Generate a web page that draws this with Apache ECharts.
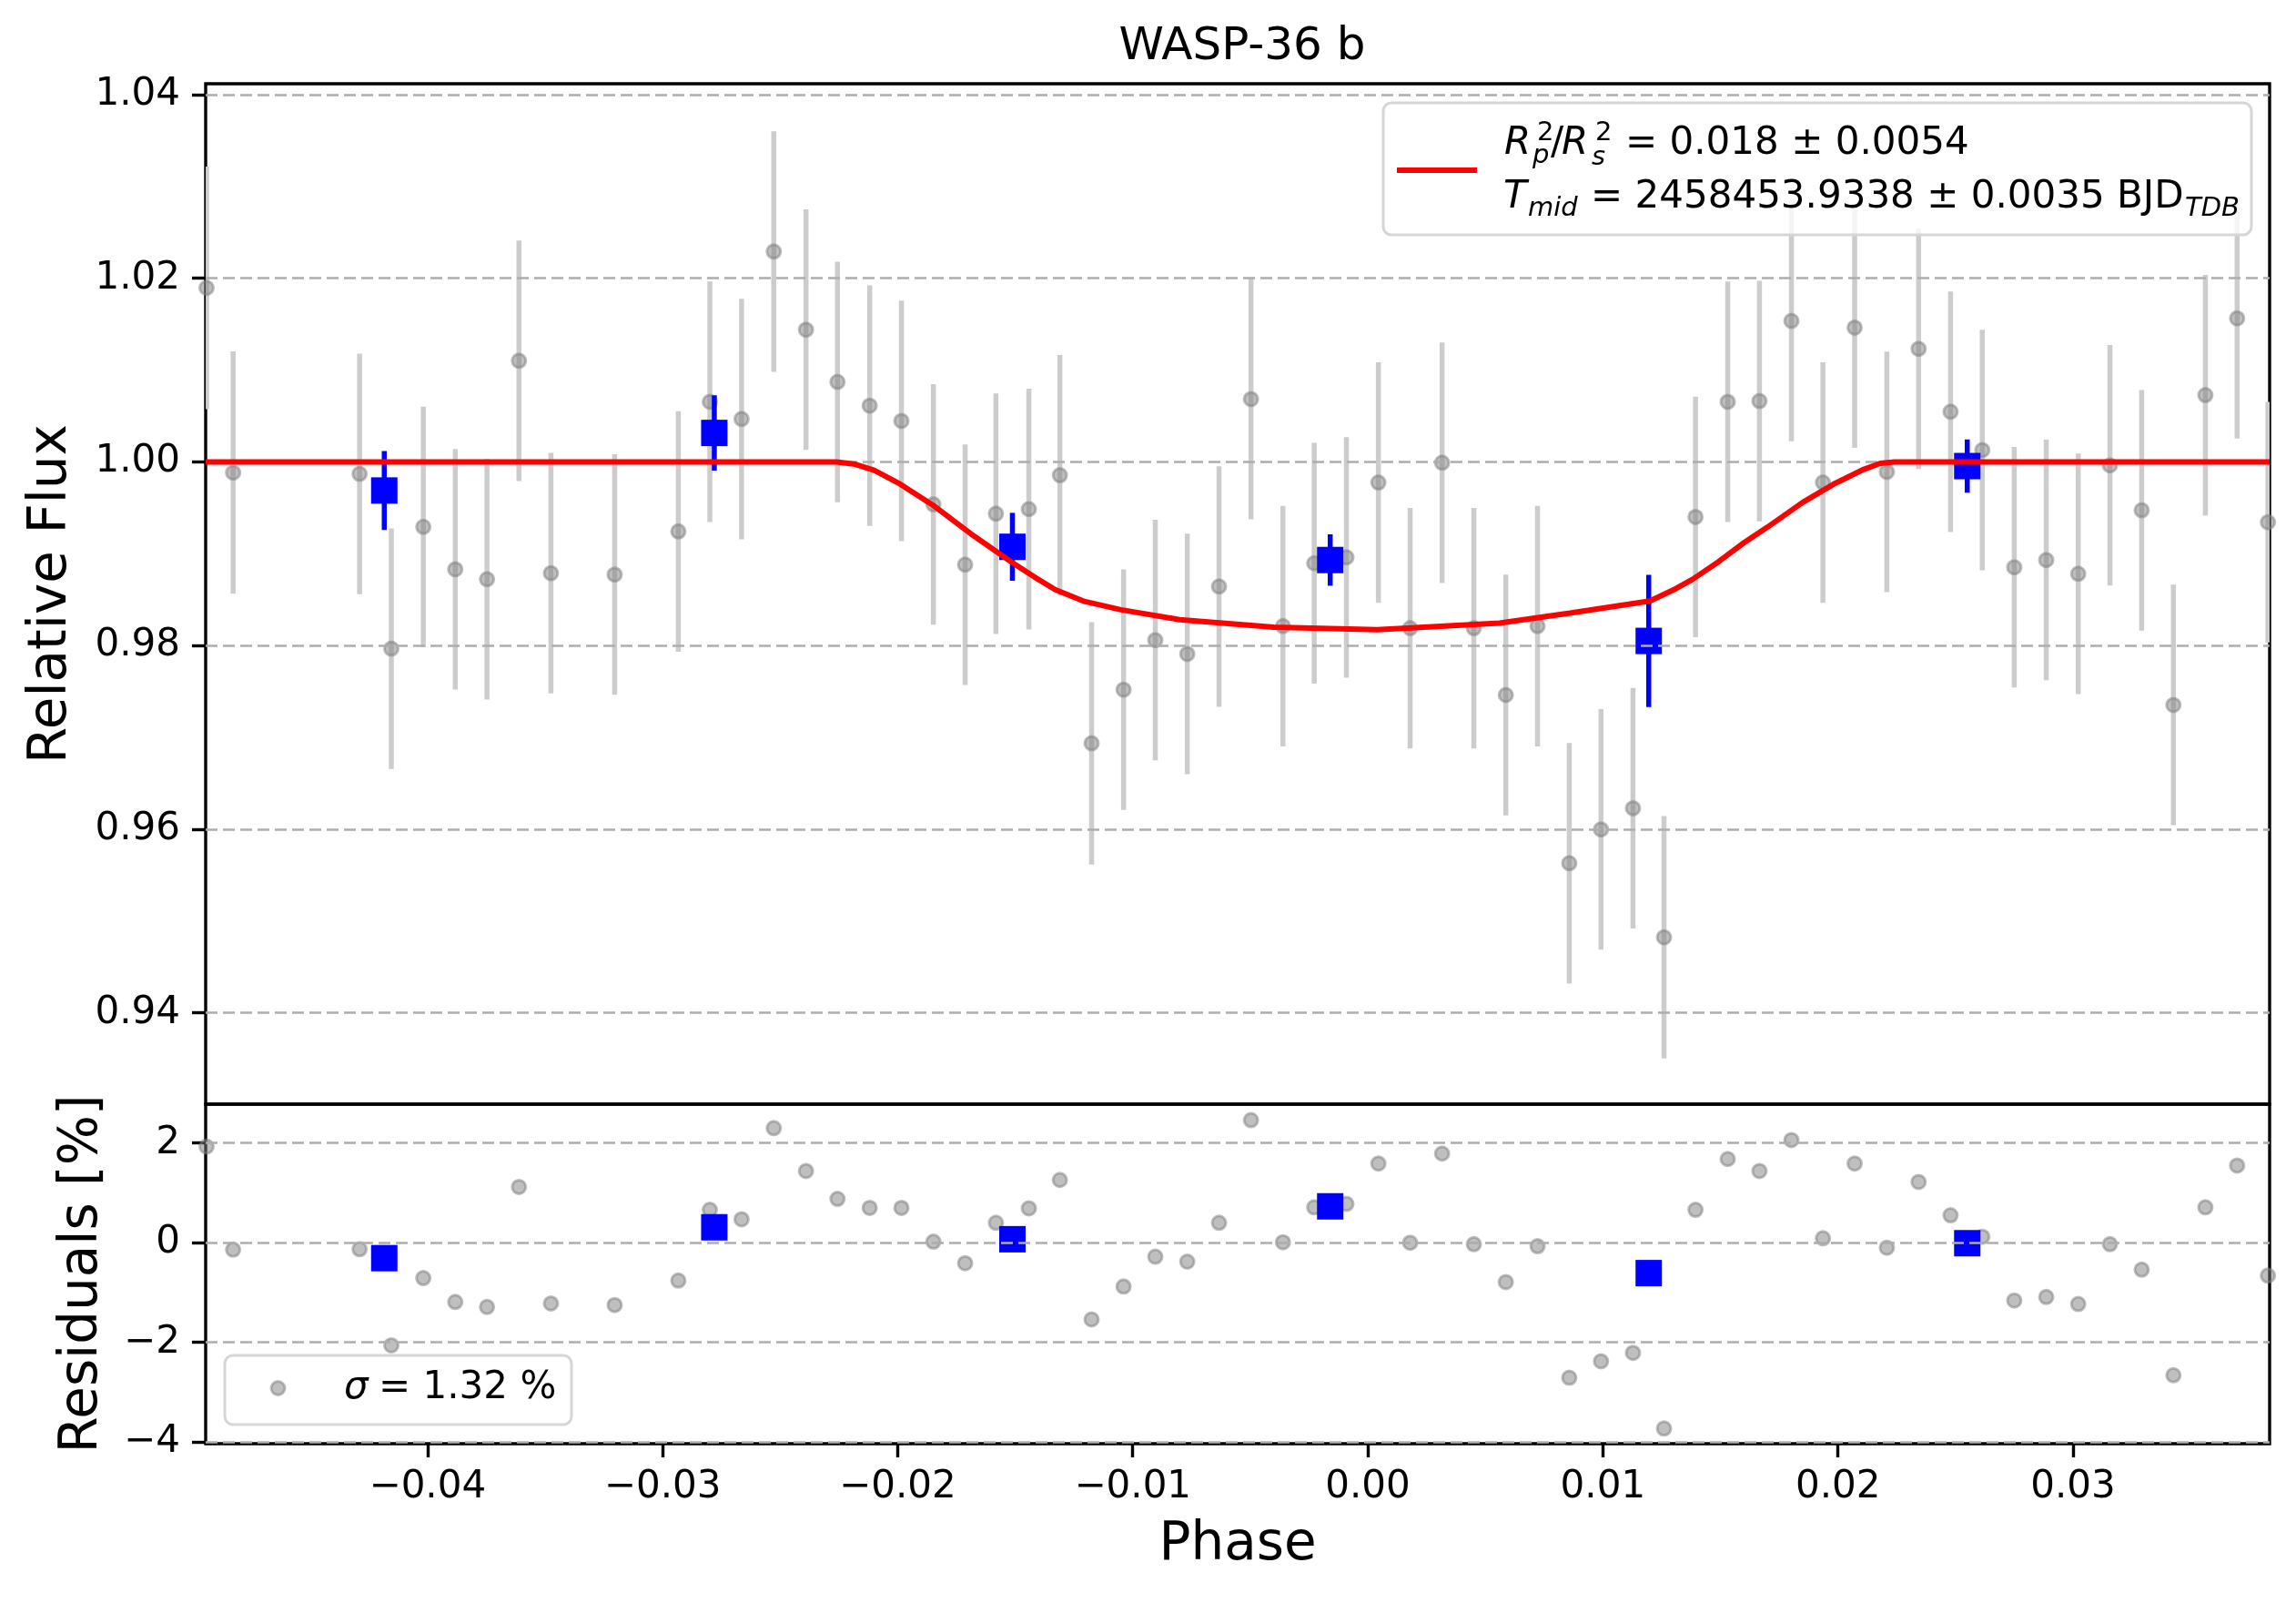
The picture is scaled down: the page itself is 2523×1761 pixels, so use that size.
<!DOCTYPE html>
<html>
<head>
<meta charset="utf-8">
<title>WASP-36 b</title>
<script src="https://cdn.jsdelivr.net/npm/echarts@6.0.0/dist/echarts.min.js"></script>
<style>
    html, body { margin: 0; padding: 0; background: #fff; }
    #chart { width: 2523px; height: 1761px; }
</style>
</head>
<body>
<div id="chart"></div>
<script>
// phase of every exposure
var fluxPhase = [
    -0.04940,
    -0.04827, -0.04289, -0.04154, -0.04018, -0.03882, -0.03747, -0.03611, -0.03475, -0.03204, -0.02933, -0.02799, -0.02664,
    -0.02527, -0.02390, -0.02256, -0.02119, -0.01984, -0.01848, -0.01713, -0.01582, -0.01442, -0.01310, -0.01175, -0.01039,
    -0.00904, -0.00768, -0.00633, -0.00497,
    -0.00361, -0.00228, -0.00091, 0.00045, 0.00180, 0.00316, 0.00451, 0.00587, 0.00722, 0.00857, 0.00992, 0.01128,
    0.01260, 0.01394, 0.01531, 0.01666, 0.01802,
    0.01936, 0.02071, 0.02208, 0.02343, 0.02479, 0.02614, 0.02750, 0.02886, 0.03022, 0.03157, 0.03292, 0.03427,
    0.03563, 0.03698, 0.03829
];
// relative flux
var fluxValue = [
    1.01896,
    0.99884, 0.99870, 0.97967, 0.99293, 0.98831, 0.98723, 1.01102, 0.98789, 0.98774, 0.99243, 1.00655, 1.00468,
    1.02292, 1.01441, 1.00872, 1.00613, 1.00447, 0.99538, 0.98882, 0.99437, 0.99487, 0.99855, 0.96936, 0.97520,
    0.98060, 0.97909, 0.98644, 1.00685,
    0.98212, 0.98897, 0.98961, 0.99776, 0.98190, 0.99992, 0.98190, 0.97462, 0.98212, 0.95630, 0.95998, 0.96229,
    0.94823, 0.99401, 1.00655, 1.00663, 1.01536,
    0.99776, 1.01463, 0.99892, 1.01232, 1.00547, 1.00130, 0.98853, 0.98932, 0.98782, 0.99963, 0.99474, 0.97354,
    1.00728, 1.01564, 0.99344
];
// 1-sigma error of each flux
var fluxErr = [
    0.0132,
    0.0132, 0.0131, 0.0131, 0.0131, 0.0131, 0.0131, 0.0131, 0.0131, 0.0131, 0.0131, 0.0131, 0.0131,
    0.0131, 0.0131, 0.0131, 0.0131, 0.0131, 0.0131, 0.0131, 0.0131, 0.0131, 0.0131, 0.0132, 0.0131,
    0.0131, 0.0131, 0.0131, 0.0131,
    0.0131, 0.0131, 0.0131, 0.0131, 0.0131, 0.0131, 0.0131, 0.0131, 0.0131, 0.0131, 0.0131, 0.0131,
    0.0132, 0.0131, 0.0131, 0.0131, 0.0131,
    0.0131, 0.0131, 0.0131, 0.0131, 0.0131, 0.0131, 0.0131, 0.0131, 0.0131, 0.0131, 0.0131, 0.0131,
    0.0131, 0.0131, 0.0131
];
// residuals in percent
var residValue = [
    1.93,
    -0.14, -0.13, -2.06, -0.71, -1.19, -1.29, 1.12, -1.22, -1.25, -0.76, 0.66, 0.47,
    2.30, 1.44, 0.88, 0.70, 0.70, 0.02, -0.41, 0.40, 0.69, 1.26, -1.54, -0.88,
    -0.28, -0.38, 0.40, 2.46,
    0.01, 0.71, 0.78, 1.59, 0.00, 1.79, -0.03, -0.79, -0.07, -2.71, -2.38, -2.21,
    -3.73, 0.66, 1.68, 1.44, 2.06,
    0.09, 1.59, -0.10, 1.22, 0.55, 0.12, -1.16, -1.09, -1.23, -0.03, -0.54, -2.66,
    0.71, 1.55, -0.66
];

// binned points (blue)
var binPhase = [-0.04184, -0.02780, -0.01512, -0.00160, 0.01195, 0.02550];
var binFlux = [0.99689, 1.00316, 0.99076, 0.98932, 0.98051, 0.99955];
var binErr = [0.0043, 0.0041, 0.0037, 0.0028, 0.0072, 0.0029];
var binResid = [-0.31, 0.31, 0.07, 0.73, -0.61, -0.01];

// transit model (red)
var modelPhase = [
    -0.04944, -0.0226, -0.0218, -0.0210, -0.0199, -0.0185, -0.0169, -0.0151, -0.0142, -0.0133,
    -0.0121, -0.0105, -0.0080, -0.0040, 0.0004, 0.0056, 0.0086, 0.0120, 0.0131, 0.0138,
    0.0149, 0.0160, 0.0170, 0.0185, 0.0199, 0.0211, 0.0218, 0.0224, 0.03836
];
var modelFlux = [
    1.0000, 1.0000, 0.99975, 0.9991, 0.9976, 0.9953, 0.9922, 0.9890, 0.9875, 0.9861,
    0.98485, 0.9839, 0.98283, 0.9820, 0.98173, 0.98246, 0.98355, 0.98485, 0.9862, 0.9872,
    0.9891, 0.9912, 0.9929, 0.9956, 0.9977, 0.9992, 0.99985, 1.0000, 1.0000
];

// tick labels
var phaseTicks = [-0.04, -0.03, -0.02, -0.01, 0.00, 0.01, 0.02, 0.03];
var fluxTicks = [0.94, 0.96, 0.98, 1.00, 1.02, 1.04];
var residTicks = [-4, -2, 0, 2];

var FONT = 'DejaVu Sans';
var GRAY_BAR = '#cccccc';
var DOT_FILL = 'rgba(128,128,128,0.5)';
var LEGEND_Z = 100;

function minus(s) {
    return s.replace('-', '\u2212');
}

// vertical error bar drawn through the axis scales
function errorBarItem(color) {
    return function (params, api) {
        var x = api.value(0), y = api.value(1), e = api.value(2);
        var lo = api.coord([x, y - e]);
        var hi = api.coord([x, y + e]);
        return {
            type: 'line',
            shape: { x1: lo[0], y1: lo[1], x2: hi[0], y2: hi[1] },
            style: { stroke: color, lineWidth: 5.5 }
        };
    };
}

function gridLines(values) {
    return {
        silent: true,
        symbol: ['none', 'none'],
        label: { show: false },
        emphasis: { disabled: true },
        lineStyle: { color: '#adadad', type: [13, 6], width: 2.6 },
        data: values.map(function (v) { return { yAxis: v }; })
    };
}

// one piece of legend text
function legendText(text, x, y, size, italic) {
    return {
        type: 'text', z: LEGEND_Z + 2,
        style: {
            text: text, x: x, y: y, fontFamily: FONT, fontSize: size,
            fontStyle: italic ? 'italic' : 'normal', fill: '#000',
            align: 'left', verticalAlign: 'middle'
        }
    };
}

var xMin = -0.049438, xMax = 0.038362;

var chart = echarts.init(document.getElementById('chart'), null, { renderer: 'canvas' });

var option = {
    animation: false,
    backgroundColor: '#ffffff',
    textStyle: { fontFamily: FONT },
    title: {
        text: 'WASP-36 b',
        left: 1360,
        top: 22,
        textAlign: 'center',
        textStyle: { fontFamily: FONT, fontSize: 50, fontWeight: 'normal', color: '#000' }
    },
    grid: [
        { left: 226, right: 29, top: 92, height: 1121, show: true, borderColor: '#000', borderWidth: 3.4, backgroundColor: 'transparent' },
        { left: 226, right: 29, top: 1213, height: 373, show: true, borderColor: '#000', borderWidth: 3.4, backgroundColor: 'transparent' }
    ],
    xAxis: [
        { type: 'value', gridIndex: 0, min: xMin, max: xMax, show: false },
        {
            type: 'value', gridIndex: 1, min: xMin, max: xMax,
            name: 'Phase', nameLocation: 'middle', nameGap: 83,
            nameTextStyle: { fontFamily: FONT, fontSize: 58, color: '#000' },
            axisLine: { show: false, onZero: false },
            axisTick: { show: true, customValues: phaseTicks, length: 15, lineStyle: { color: '#000', width: 3.4 } },
            axisLabel: {
                customValues: phaseTicks, margin: 27, fontFamily: FONT, fontSize: 42, color: '#000',
                formatter: function (v) { return minus(v.toFixed(2)); }
            },
            splitLine: { show: false }
        }
    ],
    yAxis: [
        {
            type: 'value', gridIndex: 0, min: 0.93006, max: 1.04119,
            name: 'Relative Flux', nameLocation: 'middle', nameGap: 140,
            nameTextStyle: { fontFamily: FONT, fontSize: 58, color: '#000' },
            axisLine: { show: false, onZero: false },
            axisTick: { show: true, customValues: fluxTicks, length: 15, lineStyle: { color: '#000', width: 3.4 } },
            axisLabel: {
                customValues: fluxTicks, margin: 28, fontFamily: FONT, fontSize: 42, color: '#000',
                formatter: function (v) { return v.toFixed(2); }
            },
            splitLine: { show: false }
        },
        {
            type: 'value', gridIndex: 1, min: -4.034, max: 2.781,
            name: 'Residuals [%]', nameLocation: 'middle', nameGap: 106,
            nameTextStyle: { fontFamily: FONT, fontSize: 58, color: '#000' },
            axisLine: { show: false, onZero: false },
            axisTick: { show: true, customValues: residTicks, length: 15, lineStyle: { color: '#000', width: 3.4 } },
            axisLabel: {
                customValues: residTicks, margin: 28, fontFamily: FONT, fontSize: 42, color: '#000',
                formatter: function (v) { return minus(String(v)); }
            },
            splitLine: { show: false }
        }
    ],
    series: [
        // gray error bars (plus the dashed grid of the upper panel)
        {
            type: 'custom', xAxisIndex: 0, yAxisIndex: 0, z: 1, clip: true,
            renderItem: errorBarItem(GRAY_BAR),
            encode: { x: 0, y: 1 },
            data: fluxPhase.map(function (x, i) { return [x, fluxValue[i], fluxErr[i]]; }),
            markLine: gridLines(fluxTicks)
        },
        {
            type: 'scatter', xAxisIndex: 0, yAxisIndex: 0, z: 2,
            symbol: 'circle', symbolSize: 15,
            itemStyle: { color: DOT_FILL, borderColor: DOT_FILL, borderWidth: 3, opacity: 1 },
            data: fluxPhase.map(function (x, i) { return [x, fluxValue[i]]; })
        },
        // binned error bars and squares
        {
            type: 'custom', xAxisIndex: 0, yAxisIndex: 0, z: 3, clip: true,
            renderItem: errorBarItem('#0000ff'),
            encode: { x: 0, y: 1 },
            data: binPhase.map(function (x, i) { return [x, binFlux[i], binErr[i]]; })
        },
        {
            type: 'scatter', xAxisIndex: 0, yAxisIndex: 0, z: 4,
            symbol: 'rect', symbolSize: 29,
            itemStyle: { color: '#0000ff', opacity: 1 },
            data: binPhase.map(function (x, i) { return [x, binFlux[i]]; })
        },
        {
            type: 'line', xAxisIndex: 0, yAxisIndex: 0, z: 5,
            symbol: 'none', smooth: false,
            lineStyle: { color: '#ff0000', width: 6 },
            data: modelPhase.map(function (x, i) { return [x, modelFlux[i]]; })
        },
        // residual panel
        {
            type: 'scatter', xAxisIndex: 1, yAxisIndex: 1, z: 2,
            symbol: 'circle', symbolSize: 15,
            itemStyle: { color: DOT_FILL, borderColor: DOT_FILL, borderWidth: 3, opacity: 1 },
            data: fluxPhase.map(function (x, i) { return [x, residValue[i]]; }),
            markLine: gridLines(residTicks)
        },
        {
            type: 'scatter', xAxisIndex: 1, yAxisIndex: 1, z: 4,
            symbol: 'rect', symbolSize: 29,
            itemStyle: { color: '#0000ff', opacity: 1 },
            data: binPhase.map(function (x, i) { return [x, binResid[i]]; })
        }
    ],
    graphic: [
        // legend of the model, upper panel
        { type: 'rect', z: LEGEND_Z, shape: { x: 1520, y: 113, width: 954, height: 145, r: 9 },
          style: { fill: 'rgba(255,255,255,0.8)', stroke: '#d6d6d6', lineWidth: 3 } },
        { type: 'line', z: LEGEND_Z + 1, shape: { x1: 1535, y1: 187, x2: 1623, y2: 187 },
          style: { stroke: '#ff0000', lineWidth: 6 } },
        legendText('R', 1653, 158, 42, true),
        legendText('2', 1689, 146, 29, false),
        legendText('p', 1684, 171, 29, true),
        legendText('/', 1704, 158, 42, false),
        legendText('R', 1716, 158, 42, true),
        legendText('2', 1753, 146, 29, false),
        legendText('s', 1749, 173, 29, true),
        legendText('= 0.018 \u00b1 0.0054', 1786, 158, 42, false),
        legendText('T', 1652, 217, 42, true),
        legendText('mid', 1679, 229, 29, true),
        legendText('= 2458453.9338 \u00b1 0.0035 BJD', 1748, 217, 42, false),
        legendText('TDB', 2401, 229, 29, true),
        // legend of the residuals
        { type: 'rect', z: LEGEND_Z, shape: { x: 247, y: 1489, width: 381, height: 76, r: 9 },
          style: { fill: 'rgba(255,255,255,0.8)', stroke: '#d6d6d6', lineWidth: 3 } },
        { type: 'circle', z: LEGEND_Z + 1, shape: { cx: 305.5, cy: 1525, r: 7.5 },
          style: { fill: DOT_FILL, stroke: DOT_FILL, lineWidth: 3 } },
        legendText('\u03c3', 378, 1525, 42, true),
        legendText('= 1.32 %', 416, 1525, 42, false)
    ]
};

chart.setOption(option);
</script>
</body>
</html>
